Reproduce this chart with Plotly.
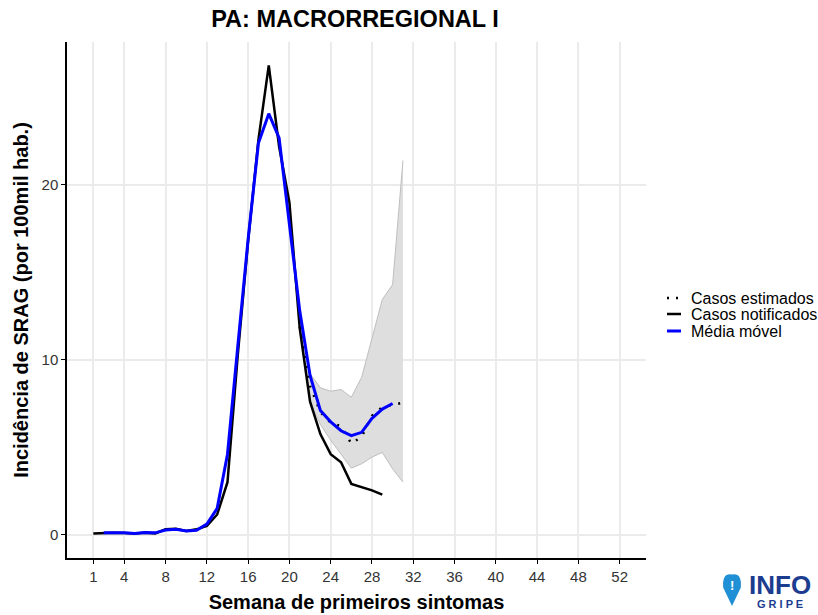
import plotly.graph_objects as go

# ---- data ----
weeks_notif = list(range(1, 30))
casos_notificados = [0.06, 0.10, 0.11, 0.09, 0.06, 0.11, 0.06, 0.30, 0.33, 0.21,
                     0.30, 0.49, 1.15, 3.0, 10.3, 16.8, 22.6, 26.84, 22.2, 19.0,
                     11.8, 7.6, 5.75, 4.6, 4.14, 2.9, 2.72, 2.53, 2.28]

weeks_mm = list(range(2, 31))
media_movel = [0.11, 0.11, 0.10, 0.06, 0.12, 0.10, 0.26, 0.30, 0.20, 0.25,
               0.60, 1.5, 4.6, 10.8, 16.9, 22.4, 24.08, 22.7, 17.7, 12.8,
               9.1, 7.1, 6.45, 5.94, 5.66, 5.85, 6.65, 7.18, 7.5]

weeks_est = list(range(21, 32))
casos_estimados = [11.9, 8.5, 7.0, 6.4, 6.2, 5.2, 5.6, 6.8, 7.3, 7.4, 7.55]
ic_inferior = [11.8, 7.6, 6.3, 5.4, 4.6, 3.8, 4.05, 4.43, 4.7, 3.76, 3.0]
ic_superior = [12.3, 9.2, 8.4, 8.2, 8.3, 7.86, 9.0, 11.3, 13.45, 14.3, 21.4]

x_ticks = [1, 4, 8, 12, 16, 20, 24, 28, 32, 36, 40, 44, 48, 52]
y_ticks = [0, 10, 20]

legend_labels = ["Casos estimados", "Casos notificados", "Média móvel"]

FONT = "Liberation Sans, Arial, Helvetica, sans-serif"

fig = go.Figure()

# ribbon
fig.add_trace(go.Scatter(x=weeks_est, y=ic_superior, mode="lines",
                         line=dict(color="rgba(190,190,190,1)", width=1),
                         showlegend=False, hoverinfo="skip"))
fig.add_trace(go.Scatter(x=weeks_est, y=ic_inferior, mode="lines",
                         line=dict(color="rgba(190,190,190,1)", width=1),
                         fill="tonexty", fillcolor="rgba(222,222,222,1)",
                         showlegend=False, hoverinfo="skip"))

fig.add_trace(go.Scatter(x=weeks_est, y=casos_estimados, mode="lines",
                         name=legend_labels[0], showlegend=False,
                         line=dict(color="black", width=2.5, dash="2px,8px")))
fig.add_trace(go.Scatter(x=weeks_notif, y=casos_notificados, mode="lines",
                         name=legend_labels[1], showlegend=False,
                         line=dict(color="black", width=2.5)))
fig.add_trace(go.Scatter(x=weeks_mm, y=media_movel, mode="lines",
                         name=legend_labels[2], showlegend=False,
                         line=dict(color="#0000FF", width=3)))

# plot area in page pixels
L, R, T, B = 67, 646, 42, 558
W, H = R - L, B - T
FIG_W, FIG_H = 818, 615


def px(x):
    return (x - L) / W


def py(y):
    return (B - y) / H


fig.update_layout(
    width=FIG_W, height=FIG_H,
    margin=dict(l=L, r=FIG_W - R, t=T, b=FIG_H - B, autoexpand=False),
    paper_bgcolor="white", plot_bgcolor="white",
    font=dict(family=FONT, color="black"),
    title=dict(text="<b>PA: MACRORREGIONAL I</b>", x=px(355), xref="paper",
               xanchor="center", y=1 - 19 / FIG_H, yanchor="middle",
               font=dict(size=23.5, family=FONT, color="black")),
    xaxis=dict(range=[-1.55, 54.55], tickvals=x_ticks,
               ticktext=[str(t) for t in x_ticks], automargin=False,
               showgrid=True, gridcolor="#EBEBEB", gridwidth=1.5,
               zeroline=False, showline=True, linecolor="black", linewidth=1.5,
               ticks="outside", ticklen=4, tickcolor="black", tickwidth=1,
               tickfont=dict(size=15, color="#333333"),
               title=dict(text="<b>Semana de primeiros sintomas</b>",
                          font=dict(size=20), standoff=11)),
    yaxis=dict(range=[-1.34, 28.18], tickvals=y_ticks, automargin=False,
               showgrid=True, gridcolor="#EBEBEB", gridwidth=1.5,
               zeroline=False, showline=True, linecolor="black", linewidth=1.5,
               ticks="outside", ticklen=4, tickcolor="black", tickwidth=1,
               tickfont=dict(size=15, color="#333333"),
               title=dict(text="<b>Incidência de SRAG (por 100mil hab.)</b>",
                          font=dict(size=20), standoff=8)),
    showlegend=False,
)

# custom legend (compact rows like the reference)
leg_y = [298, 314, 331]
leg_style = [dict(color="black", width=2.5, dash="2px,7px"),
             dict(color="black", width=2.5),
             dict(color="#0000FF", width=3)]
for lab, yy, st in zip(legend_labels, leg_y, leg_style):
    fig.add_shape(type="line", xref="paper", yref="paper",
                  x0=px(667), x1=px(681), y0=py(yy), y1=py(yy), line=st)
    fig.add_annotation(x=px(689), y=py(yy), xref="paper", yref="paper",
                       text=lab, showarrow=False, xanchor="left",
                       yanchor="middle",
                       font=dict(size=16, color="black", family=FONT))

# InfoGripe logo
cx, cy, r = 732, 584, 9.5
pin_path = (f"M {px(cx)} {py(606)} "
            f"L {px(cx - r * 0.93)} {py(cy + 3.5)} "
            f"Q {px(cx - r * 1.05)} {py(cy - r * 1.2)} {px(cx)} {py(cy - r)} "
            f"Q {px(cx + r * 1.05)} {py(cy - r * 1.2)} {px(cx + r * 0.93)} {py(cy + 3.5)} Z")
fig.add_shape(type="path", path=pin_path, xref="paper", yref="paper",
              fillcolor="#1F8FD6", line=dict(width=0))
fig.add_annotation(x=px(cx), y=py(585), xref="paper", yref="paper",
                   text="<b>!</b>", showarrow=False,
                   xanchor="center", yanchor="middle",
                   font=dict(size=13, color="white", family=FONT))
fig.add_annotation(x=px(780), y=py(590), xref="paper", yref="paper",
                   text="<span style='font-size:26px'><b>INFO</b></span>"
                        "<br><b>G R I P E</b>",
                   showarrow=False, align="center",
                   xanchor="center", yanchor="middle", borderpad=0,
                   font=dict(size=11, color="#1C3D8F", family=FONT))

fig.write_html("out.html",
               config={"responsive": False, "displayModeBar": False},
               post_script="document.body.style.margin='0';"
                           "document.body.style.overflow='hidden';")
